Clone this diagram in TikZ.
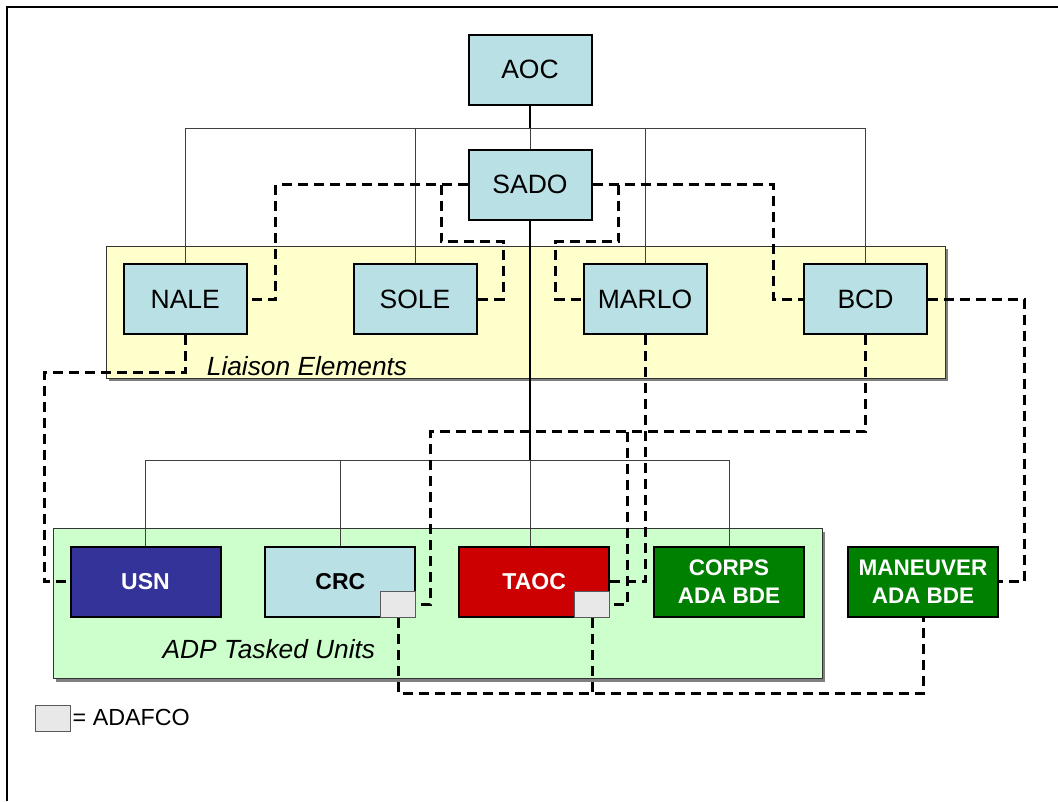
\documentclass[tikz,border=0pt]{standalone}
\usepackage{fontspec}
\setmainfont{Liberation Sans}
\definecolor{boxblue}{RGB}{185,224,228}
\definecolor{liaisonbg}{RGB}{255,255,204}
\definecolor{adpbg}{RGB}{204,255,204}
\definecolor{usnblue}{RGB}{51,51,153}
\definecolor{taocred}{RGB}{204,0,0}
\definecolor{adagreen}{RGB}{0,128,0}
\definecolor{adafcogray}{RGB}{232,232,232}
\definecolor{shadowgray}{RGB}{128,128,128}
\begin{document}
\begin{tikzpicture}[x=1pt,y=-1pt,
  box/.style={draw=black,line width=2pt,rectangle,inner sep=0pt,minimum width=123pt,minimum height=70pt,fill=boxblue,font=\fontsize{26.5}{30}\selectfont},
  unit/.style={draw=black,line width=2pt,rectangle,inner sep=0pt,minimum width=150pt,minimum height=70pt,text=white,font=\fontsize{23}{28}\bfseries\selectfont,align=center},
  twoline/.style={font=\fontsize{22.5}{28}\bfseries\selectfont},
  adafco/.style={draw=black!65,line width=1pt,fill=adafcogray,rectangle,minimum width=35pt,minimum height=26pt,inner sep=0pt},
  panel/.style={draw=black!80,line width=1pt},
  tree/.style={draw=black!75,line width=1pt},
  trunk/.style={draw=black,line width=2pt},
  liaise/.style={draw=black,line width=3pt,dash pattern=on 10pt off 6pt},
  caption/.style={font=\fontsize{26.3}{30}\itshape\selectfont,anchor=base west,inner sep=0pt},
]
\useasboundingbox (0,0) rectangle (1058,801);
% frame
\draw[line width=2pt] (7,801) -- (7,7) -- (1058,7);

% panels
\fill[shadowgray] (109,249) rectangle (948,381);
\draw[panel,fill=liaisonbg] (106,246) rectangle (945,378);
\fill[shadowgray] (56,531.5) rectangle (825,681.5);
\draw[panel,fill=adpbg] (53,528.5) rectangle (822,678.5);
\node[caption] (liaisonlbl) at (206.7,375.7) {Liaison Elements};
\node[caption] (adplbl) at (162.5,658) {ADP Tasked Units};

% boxes
\node[box] (AOC) at (530,69.5) {AOC};
\node[box] (SADO) at (530,184.5) {SADO};
\node[box] (NALE) at (185.3,299) {NALE};
\node[box] (SOLE) at (415,299) {SOLE};
\node[box] (MARLO) at (645,299) {MARLO};
\node[box] (BCD) at (865.5,299) {BCD};

\node[unit,fill=usnblue] (USN) at (145.5,581.5) {USN};
\node[unit,fill=boxblue,text=black] (CRC) at (340.4,581.5) {CRC};
\node[unit,fill=taocred] (TAOC) at (534.2,581.5) {TAOC};
\node[unit,twoline,fill=adagreen] (CORPS) at (729,581.5) {CORPS\\ADA BDE};
\node[unit,twoline,fill=adagreen] (MAN) at (923,581.5) {MANEUVER\\ADA BDE};

\node[adafco,anchor=south east] (CRCa) at (CRC.south east) {};
\node[adafco,anchor=south east] (TAOCa) at (TAOC.south east) {};

% legend
\node[adafco] (legbox) at (53,718.3) {};
\node[anchor=base west,inner sep=0pt,font=\fontsize{23.3}{28}\selectfont] (legtxt) at (72.5,725.5) {= ADAFCO};

% helper coordinates
\coordinate (h1) at (0,128.3);
\coordinate (h2) at (0,460);
\coordinate (y241) at (0,241.7);
\coordinate (y372) at (0,372.3);
\coordinate (y432) at (0,431.7);
\coordinate (bot) at (0,693.3);
\coordinate (x44) at (44,0);
\coordinate (x276) at (275.7,0);
\coordinate (x441) at (441,0);
\coordinate (x503) at (503.3,0);
\coordinate (x556) at (555.7,0);
\coordinate (x618) at (618.3,0);
\coordinate (x773) at (773.3,0);
\coordinate (x1024) at (1024.3,0);
\coordinate (x430) at (430,0);
\coordinate (x627) at (627.3,0);

% tree lines
\draw[trunk] (AOC.south) -- (AOC.south |- h1);
\draw[tree] (AOC.south |- h1) -- (SADO.north);
\draw[tree] (NALE.north |- h1) -- (BCD.north |- h1);
\draw[tree] (NALE.north |- h1) -- (NALE.north);
\draw[tree] (SOLE.north |- h1) -- (SOLE.north);
\draw[tree] (MARLO.north |- h1) -- (MARLO.north);
\draw[tree] (BCD.north |- h1) -- (BCD.north);
\draw[trunk] (SADO.south) -- (SADO.south |- h2);
\draw[tree] (USN.north |- h2) -- (CORPS.north |- h2);
\draw[tree] (USN.north |- h2) -- (USN.north);
\draw[tree] (CRC.north |- h2) -- (CRC.north);
\draw[tree] (SADO.south |- h2) -- (SADO.south |- TAOC.north);
\draw[tree] (CORPS.north |- h2) -- (CORPS.north);

% dashed liaison lines
\draw[liaise] (SADO.west) -- (SADO.west -| x276) -- (NALE.east -| x276) -- (NALE.east);
\draw[liaise] (SADO.west -| x441) -- (x441 |- y241) -- (x503 |- y241) -- (SOLE.east -| x503) -- (SOLE.east);
\draw[liaise] (SADO.east) -- (SADO.east -| x773) -- (BCD.west -| x773) -- (BCD.west);
\draw[liaise] (SADO.east -| x618) -- (x618 |- y241) -- (x556 |- y241) -- (MARLO.west -| x556) -- (MARLO.west);
\draw[liaise] (BCD.east) -- (BCD.east -| x1024) -- (MAN.east -| x1024) -- (MAN.east);
\draw[liaise] (NALE.south) -- (NALE.south |- y372) -- (x44 |- y372) -- (USN.west -| x44) -- (USN.west);
\draw[liaise] (MARLO.south) -- (MARLO.south |- TAOC.east) -- (TAOC.east);
\draw[liaise] (BCD.south) -- (BCD.south |- y432) -- (x430 |- y432) -- (CRCa.east -| x430) -- (CRCa.east);
\draw[liaise] (x627 |- y432) -- (TAOCa.east -| x627) -- (TAOCa.east);
\draw[liaise] (CRCa.south) -- (CRCa.south |- bot) -- (MAN.south |- bot) -- (MAN.south);
\draw[liaise] (TAOCa.south) -- (TAOCa.south |- bot);
\end{tikzpicture}
\end{document}
